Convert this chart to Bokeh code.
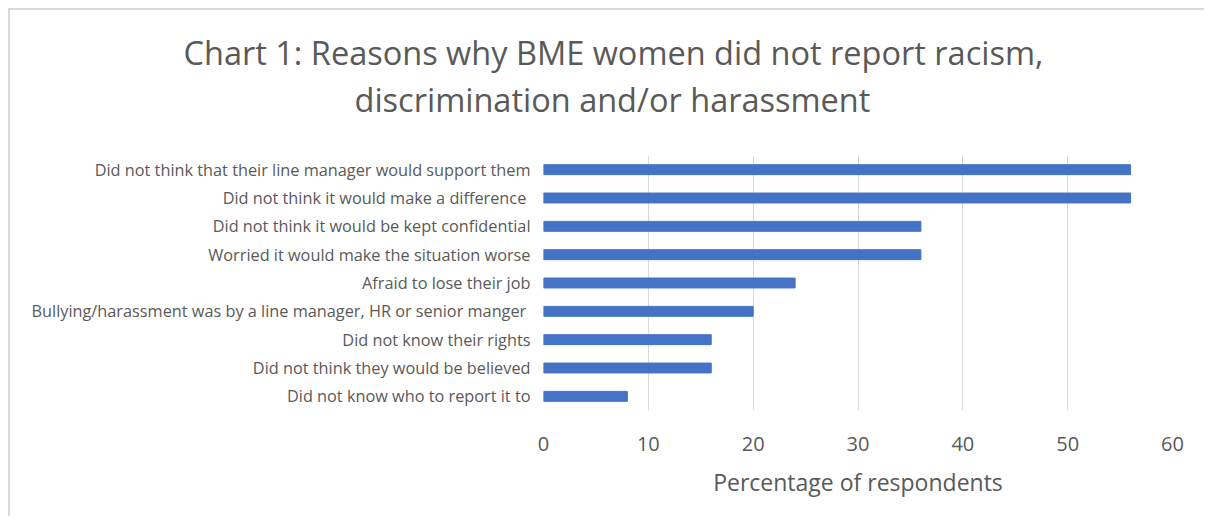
from bokeh.plotting import figure
from bokeh.models import Title, FixedTicker
from bokeh.embed import file_html
from bokeh.resources import INLINE

categories = [
    "Did not think that their line manager would support them",
    "Did not think it would make a difference ",
    "Did not think it would be kept confidential",
    "Worried it would make the situation worse",
    "Afraid to lose their job",
    "Bullying/harassment was by a line manager, HR or senior manger ",
    "Did not know their rights",
    "Did not think they would be believed",
    "Did not know who to report it to",
]
values = [56, 56, 36, 36, 24, 20, 16, 16, 8]
x_ticks = [0, 10, 20, 30, 40, 50, 60]
title_lines = ["Chart 1: Reasons why BME women did not report racism,",
               "discrimination and/or harassment"]
x_label = "Percentage of respondents"

FONT = "Open Sans"
GREY = "#595959"
BORDER = "#d9d9d9"

p = figure(width=1196, height=508, y_range=list(reversed(categories)),
           x_range=(0, 60), output_backend="svg", toolbar_location=None,
           min_border_left=533, min_border_right=34, min_border_top=145,
           min_border_bottom=108, margin=(8, 0, 0, 8),
           styles={"border-left": f"2px solid {BORDER}",
                   "border-top": f"2px solid {BORDER}"})
p.hbar(y=categories, right=values, left=0, height=0.35, color="#4472C4")

# title: two centred lines placed in panels above the plot area
p.add_layout(Title(text=" ", text_font_size="1px", standoff=31), "above")
for txt, off in zip(reversed(title_lines), [-189, -360]):
    p.add_layout(Title(text=txt, align="left", offset=off,
                       vertical_align="bottom", standoff=0,
                       text_font=FONT, text_font_size="32.5px",
                       text_font_style="normal", text_color=GREY), "above")

p.y_range.range_padding = 0
p.outline_line_color = None
p.ygrid.grid_line_color = None
p.xgrid.grid_line_color = BORDER
p.xgrid.grid_line_width = 1
p.xaxis.ticker = FixedTicker(ticks=x_ticks)
p.xaxis.axis_line_color = None
p.xaxis.major_tick_line_color = None
p.xaxis.minor_tick_line_color = None
p.xaxis.major_label_text_font = FONT
p.xaxis.major_label_text_font_size = "20px"
p.xaxis.major_label_text_color = GREY
p.xaxis.major_label_standoff = 20
p.xaxis.axis_label = x_label
p.xaxis.axis_label_text_font = FONT
p.xaxis.axis_label_text_font_size = "23px"
p.xaxis.axis_label_text_font_style = "normal"
p.xaxis.axis_label_text_color = GREY
p.xaxis.axis_label_standoff = 12

p.yaxis.axis_line_color = None
p.yaxis.major_tick_line_color = None
p.yaxis.minor_tick_line_color = None
p.yaxis.major_tick_out = 0
p.yaxis.major_label_text_font = FONT
p.yaxis.major_label_text_font_size = "16.3px"
p.yaxis.major_label_text_color = GREY
p.yaxis.major_label_standoff = 13

open("out.html", "w").write(file_html(p, INLINE))
